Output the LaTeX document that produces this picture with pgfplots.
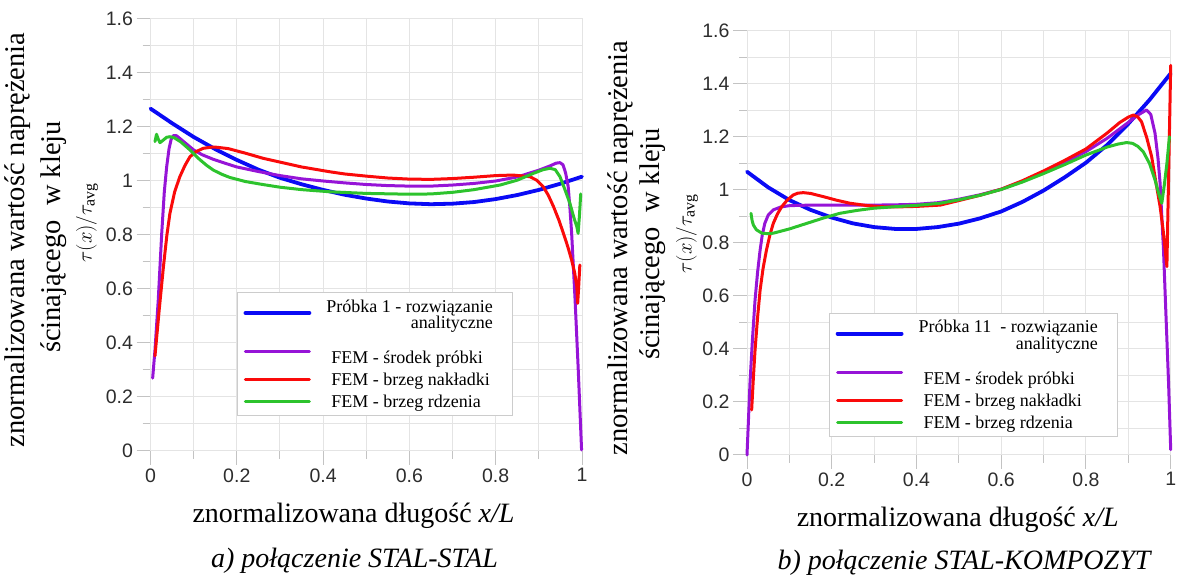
\documentclass[border=0pt]{standalone}
\usepackage{fontspec}
\setmainfont{Liberation Serif}
\newfontfamily\tickfont{Liberation Sans}
\usepackage{pgfplots}
\pgfplotsset{compat=1.18}

\definecolor{cBlue}{RGB}{10,10,245}
\definecolor{cPurple}{RGB}{150,20,215}
\definecolor{cRed}{RGB}{250,10,10}
\definecolor{cGreen}{RGB}{45,195,45}
\definecolor{gridc}{RGB}{228,228,228}
\definecolor{tickc}{RGB}{195,195,195}
\definecolor{labc}{RGB}{45,45,45}

\pgfplotsset{
  panel/.style={
    scale only axis,
    xmin=0, xmax=1, ymin=0, ymax=1.6,
    xtick={0,0.2,0.4,0.6,0.8,1},
    xticklabels={0,0.2,0.4,0.6,0.8,1},
    minor xtick={0.1,0.3,0.5,0.7,0.9},
    ytick={0,0.2,0.4,0.6,0.8,1,1.2,1.4,1.6},
    yticklabels={0,0.2,0.4,0.6,0.8,1,1.2,1.4,1.6},
    minor ytick={0.1,0.3,0.5,0.7,0.9,1.1,1.3,1.5},
    grid=both,
    major grid style={draw=gridc, line width=1pt},
    minor grid style={draw=gridc, line width=1pt},
    axis line style={draw=gridc, line width=1pt},
    tick align=outside,
    xtick pos=left, ytick pos=left,
    major tick length=14pt, minor tick length=8pt,
    tick style={draw=tickc, line width=1pt},
    tick label style={font=\tickfont\fontsize{19.5}{20}\selectfont, text=labc},
    clip=false,
    every axis plot/.append style={line join=round, line cap=round},
    legend image code/.code={\draw[#1] (0pt,0pt) -- (64pt,0pt);},
    legend cell align=left,
    legend style={draw=gray!40, line width=1pt, fill=white,
      font=\fontsize{18}{16}\selectfont,
      inner xsep=6pt, inner ysep=5pt, column sep=13pt, row sep=4pt},
  },
  blueline/.style={cBlue, line width=3.8pt},
  purpleline/.style={cPurple, line width=3pt},
  redline/.style={cRed, line width=3pt},
  greenline/.style={cGreen, line width=3pt},
}

\begin{document}
\begin{tikzpicture}[x=1pt, y=1pt]
\path[use as bounding box] (0pt,0pt) rectangle (1179pt,577pt);

% ---------------- a) STAL-STAL ----------------
\begin{axis}[panel, at={(150.5pt,126pt)}, anchor=south west,
  width=431.5pt, height=432pt,
  legend style={at={(0.2005,0.368)}, anchor=north west}]
\addplot[blueline, legend image post style={yshift=2pt}] coordinates {
(0,1.268)(0.05,1.214)(0.1,1.163)(0.15,1.118)(0.2,1.078)(0.25,1.042)(0.3,1.012)
(0.35,0.988)(0.4,0.967)(0.45,0.949)(0.5,0.935)(0.55,0.924)(0.6,0.917)(0.65,0.914)
(0.7,0.916)(0.75,0.922)(0.8,0.933)(0.85,0.948)(0.9,0.967)(0.95,0.99)(1,1.016)};
\addlegendentry{{\def\arraystretch{0.9}\begin{tabular}[b]{@{}r@{\hspace{12pt}}}Próbka 1 - rozwiązanie\\analityczne\end{tabular}}}
\addplot[purpleline] coordinates {
(0.005,0.27)(0.0104,0.374)(0.018,0.56)(0.026,0.806)(0.032,0.96)(0.0375,1.053)
(0.043,1.12)(0.048,1.155)(0.053,1.168)(0.06,1.168)(0.07,1.155)(0.085,1.135)
(0.1,1.115)(0.12,1.097)(0.146,1.08)(0.184,1.06)(0.2,1.052)(0.25,1.035)(0.3,1.02)
(0.35,1.008)(0.4,1.0)(0.45,0.993)(0.5,0.987)(0.55,0.983)(0.6,0.981)(0.65,0.981)
(0.7,0.985)(0.75,0.991)(0.8,1.0)(0.85,1.015)(0.9,1.04)(0.926,1.056)(0.94,1.066)
(0.949,1.068)(0.956,1.06)(0.962,1.03)(0.968,0.979)(0.972,0.9)(0.976,0.806)
(0.984,0.559)(0.991,0.312)(0.999,0.004)};
\addlegendentry{\rule{0pt}{25pt}\hspace*{5pt}FEM - środek próbki}
\addplot[redline] coordinates {
(0.0104,0.352)(0.02,0.52)(0.03,0.683)(0.038,0.8)(0.045,0.88)(0.056,0.96)(0.068,1.016)
(0.08,1.058)(0.0915,1.09)(0.105,1.108)(0.122,1.121)(0.14,1.125)(0.153,1.125)
(0.18,1.12)(0.22,1.103)(0.261,1.084)(0.3,1.07)(0.35,1.052)(0.416,1.034)(0.45,1.026)
(0.5,1.018)(0.55,1.011)(0.6,1.007)(0.65,1.006)(0.7,1.009)(0.75,1.014)(0.8,1.02)
(0.84,1.022)(0.879,1.016)(0.895,1.003)(0.91,0.979)(0.922,0.947)(0.934,0.905)
(0.946,0.857)(0.957,0.806)(0.967,0.757)(0.976,0.707)(0.983,0.66)(0.988,0.609)
(0.99,0.547)(0.992,0.6)(0.995,0.689)};
\addlegendentry{\hspace*{5pt}FEM - brzeg nakładki}
\addplot[greenline] coordinates {
(0.0104,1.146)(0.014,1.173)(0.018,1.155)(0.022,1.142)(0.03,1.152)(0.0375,1.162)
(0.045,1.164)(0.055,1.16)(0.07,1.145)(0.0915,1.115)(0.11,1.085)(0.13,1.058)
(0.146,1.04)(0.165,1.025)(0.184,1.013)(0.22,0.998)(0.26,0.987)(0.3,0.977)
(0.35,0.968)(0.416,0.96)(0.5,0.954)(0.6,0.951)(0.65,0.952)(0.7,0.958)(0.75,0.968)
(0.81,0.985)(0.85,1.003)(0.887,1.028)(0.91,1.042)(0.926,1.047)(0.938,1.042)
(0.949,1.016)(0.96,0.97)(0.972,0.917)(0.982,0.86)(0.988,0.831)(0.991,0.806)
(0.994,0.87)(0.997,0.952)};
\addlegendentry{\hspace*{5pt}FEM - brzeg rdzenia}
\end{axis}

% ---------------- b) STAL-KOMPOZYT ----------------
\begin{axis}[panel, at={(747pt,122pt)}, anchor=south west,
  width=423.7pt, height=424pt,
  legend style={at={(0.194,0.3356)}, anchor=north west}]
\addplot[blueline, legend image post style={yshift=2pt}] coordinates {
(0,1.069)(0.05,1.01)(0.1,0.962)(0.15,0.925)(0.2,0.896)(0.25,0.874)(0.3,0.86)
(0.35,0.853)(0.4,0.853)(0.45,0.86)(0.5,0.873)(0.55,0.893)(0.6,0.919)(0.65,0.955)
(0.7,0.998)(0.75,1.048)(0.8,1.103)(0.85,1.17)(0.9,1.25)(0.95,1.34)(1,1.44)};
\addlegendentry{{\def\arraystretch{0.9}\begin{tabular}[b]{@{}r@{\hspace{12pt}}}Próbka 11\ \ - rozwiązanie\\analityczne\end{tabular}}}
\addplot[purpleline] coordinates {
(0,0)(0.007,0.27)(0.013,0.44)(0.019,0.585)(0.025,0.69)(0.031,0.774)(0.036,0.83)
(0.042,0.874)(0.05,0.905)(0.062,0.925)(0.08,0.936)(0.101,0.941)(0.15,0.943)
(0.2,0.943)(0.25,0.943)(0.3,0.943)(0.35,0.944)(0.4,0.946)(0.45,0.952)(0.5,0.965)
(0.55,0.982)(0.6,1.003)(0.65,1.033)(0.7,1.068)(0.75,1.105)(0.8,1.145)(0.85,1.195)
(0.9,1.255)(0.925,1.285)(0.943,1.302)(0.953,1.285)(0.963,1.214)(0.97,1.12)
(0.975,1.025)(0.983,0.774)(0.989,0.52)(0.995,0.27)(1,0.02)};
\addlegendentry{\rule{0pt}{25pt}\hspace*{5pt}FEM - środek próbki}
\addplot[redline] coordinates {
(0.011,0.17)(0.015,0.29)(0.019,0.396)(0.025,0.52)(0.031,0.623)(0.038,0.705)
(0.046,0.774)(0.054,0.83)(0.062,0.874)(0.072,0.91)(0.082,0.937)(0.095,0.962)
(0.109,0.981)(0.12,0.988)(0.133,0.99)(0.15,0.987)(0.18,0.975)(0.21,0.962)
(0.243,0.95)(0.28,0.942)(0.314,0.937)(0.35,0.936)(0.4,0.938)(0.456,0.943)(0.5,0.96)
(0.55,0.98)(0.6,1.003)(0.65,1.035)(0.7,1.072)(0.75,1.112)(0.8,1.155)(0.85,1.215)
(0.88,1.255)(0.9,1.275)(0.912,1.283)(0.922,1.276)(0.931,1.258)(0.943,1.2)
(0.955,1.126)(0.965,1.03)(0.975,0.937)(0.982,0.85)(0.987,0.774)(0.991,0.711)
(1,1.47)};
\addlegendentry{\hspace*{5pt}FEM - brzeg nakładki}
\addplot[greenline] coordinates {
(0.0094,0.912)(0.012,0.885)(0.015,0.868)(0.022,0.85)(0.035,0.837)(0.05,0.835)
(0.062,0.837)(0.1,0.853)(0.141,0.874)(0.18,0.894)(0.219,0.912)(0.26,0.923)
(0.298,0.931)(0.35,0.937)(0.4,0.942)(0.456,0.95)(0.5,0.963)(0.55,0.98)(0.6,1.002)
(0.65,1.03)(0.7,1.062)(0.75,1.096)(0.8,1.132)(0.85,1.162)(0.875,1.173)(0.896,1.179)
(0.91,1.176)(0.922,1.165)(0.935,1.145)(0.95,1.1)(0.963,1.038)(0.972,0.985)
(0.979,0.95)(0.985,1.02)(0.991,1.1)(0.997,1.201)};
\addlegendentry{\hspace*{5pt}FEM - brzeg rdzenia}
\end{axis}

% axis titles and captions
\begin{scope}[every node/.style={inner sep=0pt}]
\node[rotate=90, font=\fontsize{28.5}{30}\selectfont] at (18pt,337pt) {znormalizowana wartość naprężenia};
\node[rotate=90, font=\fontsize{28.5}{30}\selectfont] at (53.5pt,340pt) {ścinającego\ \ w kleju};
\node[rotate=90, font=\fontsize{22.5}{24}\selectfont] at (87pt,354pt) {$\tau(x)/\tau_{\mathrm{avg}}$};
\node[font=\fontsize{28}{30}\selectfont] at (353.5pt,61pt) {znormalizowana długość \textit{x/L}};
\node[font=\fontsize{28}{30}\selectfont\itshape] at (354.5pt,16pt) {a) połączenie STAL-STAL};

\node[rotate=90, font=\fontsize{28.5}{30}\selectfont] at (621pt,329pt) {znormalizowana wartość naprężenia};
\node[rotate=90, font=\fontsize{28.5}{30}\selectfont] at (652.5pt,333pt) {ścinającego\ \ w kleju};
\node[rotate=90, font=\fontsize{22.5}{24}\selectfont] at (687pt,343pt) {$\tau(x)/\tau_{\mathrm{avg}}$};
\node[font=\fontsize{28}{30}\selectfont] at (957.7pt,57pt) {znormalizowana długość \textit{x/L}};
\node[font=\fontsize{28}{30}\selectfont\itshape] at (964pt,14.5pt) {b) połączenie STAL-KOMPOZYT};
\end{scope}
\end{tikzpicture}
\end{document}
